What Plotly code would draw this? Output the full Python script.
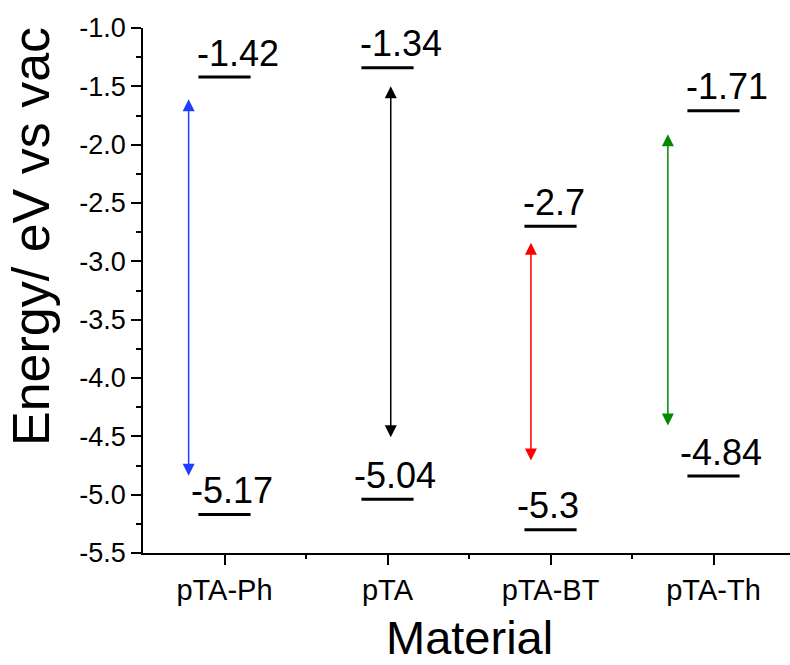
import plotly.graph_objects as go

# ---- data ----
materials = ["pTA-Ph", "pTA", "pTA-BT", "pTA-Th"]
lumo = [-1.42, -1.34, -2.7, -1.71]
homo = [-5.17, -5.04, -5.3, -4.84]
lumo_labels = ["-1.42", "-1.34", "-2.7", "-1.71"]
homo_labels = ["-5.17", "-5.04", "-5.3", "-4.84"]
# gap arrows: x position (category units), top tip, bottom tip
arrow_x = [-0.22, 1.02, 1.88, 2.72]
arrow_top = [-1.61, -1.50, -2.84, -1.91]
arrow_bottom = [-4.85, -4.52, -4.72, -4.42]
arrow_colors = ["#1f3fff", "#000000", "#ff0000", "#008a00"]
y_ticks = [-5.5, -5.0, -4.5, -4.0, -3.5, -3.0, -2.5, -2.0, -1.5, -1.0]

FONT = "Liberation Sans, Arial, sans-serif"
HALF = 0.16

W, H = 790, 665
L, R, T, B = 143, 0, 28, 112
PW, PH = W - L - R, H - T - B


def px_x(px):
    return (px - L) / PW


def px_y(py):
    return (H - B - py) / PH


fig = go.Figure()

# energy levels
xs, ys = [], []
for i, (lu, ho) in enumerate(zip(lumo, homo)):
    xs += [i - HALF, i + HALF, None, i - HALF, i + HALF, None]
    ys += [lu, lu, None, ho, ho, None]
fig.add_trace(go.Scatter(x=xs, y=ys, mode="lines",
                         line=dict(color="black", width=3),
                         hoverinfo="skip", showlegend=False))

annotations = []
for i in range(len(materials)):
    annotations.append(dict(x=i - HALF, y=lumo[i], xref="x", yref="y",
                            text=lumo_labels[i], showarrow=False,
                            xanchor="left", yanchor="middle",
                            xshift=-3, yshift=24,
                            font=dict(family=FONT, size=36, color="black")))
    annotations.append(dict(x=i - HALF, y=homo[i], xref="x", yref="y",
                            text=homo_labels[i], showarrow=False,
                            xanchor="left", yanchor="middle",
                            xshift=-9, yshift=24,
                            font=dict(family=FONT, size=36, color="black")))
    annotations.append(dict(x=arrow_x[i], y=arrow_top[i], ax=arrow_x[i], ay=arrow_bottom[i],
                            xref="x", yref="y", axref="x", ayref="y",
                            text="", showarrow=True, arrowside="end+start",
                            arrowhead=2, startarrowhead=2,
                            arrowsize=1.6, startarrowsize=1.6,
                            arrowwidth=1.5, arrowcolor=arrow_colors[i],
                            standoff=0, startstandoff=0))

# axis titles
annotations.append(dict(x=px_x(469), y=px_y(637), xref="paper", yref="paper",
                        text="Material", showarrow=False,
                        xanchor="center", yanchor="middle",
                        font=dict(family=FONT, size=47, color="black")))
annotations.append(dict(x=px_x(31), y=px_y(237), xref="paper", yref="paper",
                        text="Energy/ eV vs vac", showarrow=False, textangle=-90,
                        xanchor="center", yanchor="middle",
                        font=dict(family=FONT, size=52, color="black")))

fig.update_layout(
    width=W, height=H,
    margin=dict(l=L, r=R, t=T, b=B),
    paper_bgcolor="white", plot_bgcolor="white",
    showlegend=False,
    annotations=annotations,
    xaxis=dict(range=[-0.5, -0.5 + PW / 163.0],
               tickvals=list(range(len(materials))), ticktext=materials,
               ticks="outside", ticklen=10, tickwidth=1.5, tickcolor="black",
               showline=True, linewidth=1.5, linecolor="black",
               showgrid=False, zeroline=False,
               tickfont=dict(family=FONT, size=29, color="black"),
               minor=dict(tickvals=[0.5, 1.5, 2.5], ticks="outside", ticklen=4,
                          tickwidth=1.5, tickcolor="black", showgrid=False)),
    yaxis=dict(range=[-5.5, -1.0],
               tickvals=y_ticks, ticktext=[f"{v:.1f}" for v in y_ticks],
               ticks="outside", ticklen=10, tickwidth=1.5, tickcolor="black",
               showline=True, linewidth=1.5, linecolor="black",
               showgrid=False, zeroline=False,
               tickfont=dict(family=FONT, size=27, color="black"),
               minor=dict(dtick=0.25, tick0=-5.5, ticks="outside", ticklen=5,
                          tickwidth=1.5, tickcolor="black", showgrid=False)),
)

fig.write_html("out.html")
